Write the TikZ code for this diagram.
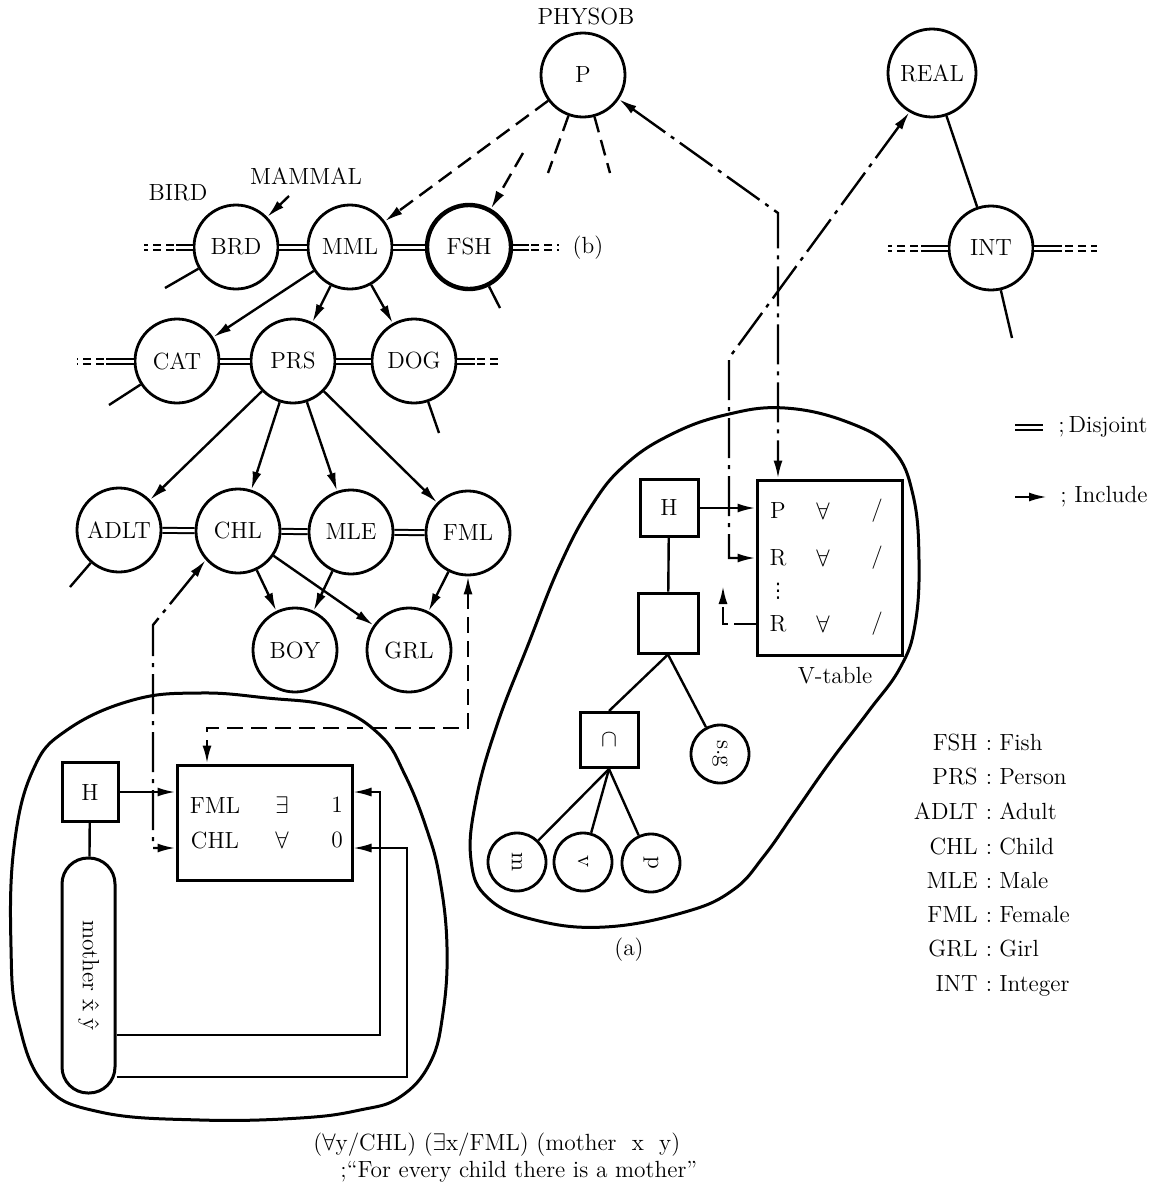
\documentclass[tikz,border=0pt]{standalone}
\usepackage{fontspec}
\usepackage{graphicx}
\newfontfamily\dejavu{DejaVu Sans}
\usetikzlibrary{arrows.meta,calc}
\begin{document}
\begin{tikzpicture}[x=0.5pt,y=-0.5pt,
  font=\fontsize{11.7}{14}\selectfont,
  every node/.style={inner sep=0pt},
  cls/.style={circle,draw,line width=1.4pt,minimum size=42pt,inner sep=0pt},
  smc/.style={circle,draw,line width=1.4pt,minimum size=29pt,inner sep=0pt},
  sq/.style={rectangle,draw,line width=1.5pt,inner sep=0pt},
  pillshape/.style={rectangle,draw,line width=1.5pt,rounded corners=13pt,minimum width=26.5pt,minimum height=117.5pt,inner sep=0pt},
  ln/.style={line width=1.2pt},
  thinln/.style={line width=0.9pt},
  tip/.style={-{Latex[length=9pt,width=4.5pt]}},
  incl/.style={line width=1.2pt,-{Latex[length=9pt,width=4.5pt]}},
  bothinc/.style={line width=1.2pt,{Latex[length=9pt,width=4.5pt]}-{Latex[length=9pt,width=4.5pt]}},
  dsh/.style={dash pattern=on 8pt off 4pt},
  ddot/.style={dash pattern=on 20pt off 3.5pt on 2pt off 3.5pt},
  disj/.style={double,double distance=1.5pt,line width=1pt},
  ddisj/.style={double,double distance=1.5pt,line width=1pt,dash pattern=on 4pt off 2.5pt},
  blob/.style={line width=1.5pt},
]
\useasboundingbox (0,0) rectangle (1165,1195);

% ---- blobs ----
\draw[blob] plot[smooth cycle, tension=0.7] coordinates {(785,408) (850,423) (893,450) (913,495) (919,560) (915,625) (900,668) (868,712) (830,762) (795,812) (764,856) (733,890) (685,912) (605,927) (535,920) (488,898) (471,860) (476,800) (497,725) (528,645) (560,565) (592,505) (625,465) (670,435) (725,415)};
\draw[blob] plot[smooth cycle, tension=0.7] coordinates {(33,770) (67,730) (133,700) (200,693) (267,698) (333,707) (380,735) (405,775) (427,830) (440,880) (447,947) (443,1013) (430,1063) (400,1097) (360,1110) (300,1118) (200,1120) (100,1112) (45,1085) (18,1020) (11,947) (14,847)};

% ---- hierarchy nodes ----
\node[cls] (P) at (583,75) {P};
\node (physob) at (586,17) {PHYSOB};
\node[cls,minimum size=44pt] (REAL) at (932,73) {REAL};
\node[cls] (INT) at (991,248) {INT};

\node[cls] (BRD) at (236,247) {BRD};
\node[cls] (MML) at (350,247) {MML};
\node[cls,line width=2.2pt] (FSH) at (469,247) {FSH};
\node[cls] (CAT) at (177,361) {CAT};
\node[cls] (PRS) at (293,361) {PRS};
\node[cls] (DOG) at (414,361) {DOG};
\node[cls] (ADLT) at (119,530) {ADLT};
\node[cls] (CHL) at (238,531) {CHL};
\node[cls] (MLE) at (351,532) {MLE};
\node[cls] (FML) at (468,533) {FML};
\node[cls] (BOY) at (295,650) {BOY};
\node[cls] (GRL) at (409,650) {GRL};

\node (bird) at (178,193) {BIRD};
\node (mammal) at (306,176) {MAMMAL};
\node (lb) at (588,248) {(b)};

% ---- free ends ----
\coordinate (mamtail) at (289,196);
\coordinate (fshstart) at (523,153);
\coordinate (pstubA) at (548,173);
\coordinate (pstubB) at (610,173);
\coordinate (brdtail) at (165,288);
\coordinate (fshtail) at (500,308);
\coordinate (cattail) at (109,405);
\coordinate (dogtail) at (439,433);
\coordinate (adlttail) at (70,587);
\coordinate (inttail) at (1012,338);

% ---- disjoint links ----
\draw[disj] (BRD) -- (MML);
\draw[disj] (MML) -- (FSH);
\draw[disj] (CAT) -- (PRS);
\draw[disj] (PRS) -- (DOG);
\draw[disj] (ADLT) -- (CHL);
\draw[disj] (CHL) -- (MLE);
\draw[disj] (MLE) -- (FML);

\draw[disj] (BRD.west) -- ++(-17,0);
\draw[ddisj] (BRD.west) ++(-19,0) -- ++(-30,0);
\draw[disj] (FSH.east) -- ++(16,0);
\draw[ddisj] (FSH.east) ++(18,0) -- ++(28,0);
\draw[disj] (CAT.west) -- ++(-28,0);
\draw[ddisj] (CAT.west) ++(-30,0) -- ++(-27,0);
\draw[disj] (DOG.east) -- ++(18,0);
\draw[ddisj] (DOG.east) ++(20,0) -- ++(24,0);
\draw[disj] (INT.west) -- ++(-27,0);
\draw[ddisj] (INT.west) ++(-30,0) -- ++(-30,0);
\draw[disj] (INT.east) -- ++(28,0);
\draw[ddisj] (INT.east) ++(31,0) -- ++(32,0);

% ---- tails ----
\draw[ln] (BRD) -- (brdtail);
\draw[ln] (FSH) -- (fshtail);
\draw[ln] (CAT) -- (cattail);
\draw[ln] (DOG) -- (dogtail);
\draw[ln] (ADLT) -- (adlttail);
\draw[ln] (INT) -- (inttail);
\draw[ln] (REAL) -- (INT);

% ---- include arrows ----
\draw[incl] (mamtail) -- (BRD);
\draw[incl,dsh] (P) -- (MML);
\draw[incl,dsh] (fshstart) -- (FSH);
\draw[ln,dsh] (P) -- (pstubA);
\draw[ln,dsh] (P) -- (pstubB);
\draw[incl] (MML) -- (CAT);
\draw[incl] (MML) -- (PRS);
\draw[incl] (MML) -- (DOG);
\draw[incl] (PRS) -- (ADLT);
\draw[incl] (PRS) -- (CHL);
\draw[incl] (PRS) -- (MLE);
\draw[incl] (PRS) -- (FML);
\draw[incl] (CHL) -- (BOY);
\draw[incl] (CHL) -- (GRL);
\draw[incl] (MLE) -- (BOY);
\draw[incl] (FML) -- (GRL);

% ---- right structure (a) ----
\node[sq,minimum width=29pt,minimum height=28.5pt] (H2) at (669,508) {H};
\node[sq,minimum size=30pt] (E) at (668,623) {};
\node[sq,minimum width=29pt,minimum height=27.5pt] (cap) at (609,740) {$\cap$};
\node[smc] (sg) at (720,754) {\rotatebox{-90}{s.g}};
\node[smc] (m) at (517,862) {\rotatebox{-90}{m}};
\node[smc] (v) at (583,862) {\rotatebox{-90}{v}};
\node[smc] (p) at (651,863) {\rotatebox{-90}{p}};
\node[sq,minimum width=72.5pt,minimum height=87.5pt] (vt) at (829.5,567.5) {};
\node (vP) at (778,511) {P};
\node (vPa) at (823,511) {$\forall$};
\node (vPs) at (877,511) {/};
\node (vR1) at (778,558) {R};
\node (vR1a) at (823,558) {$\forall$};
\node (vR1s) at (877,558) {/};
\node[font=\dejavu\fontsize{10}{10}\selectfont] (vdots) at (778,591) {⋮};
\node (vR2) at (778,624) {R};
\node (vR2a) at (823,624) {$\forall$};
\node (vR2s) at (877,624) {/};
\node (vtlab) at (835,676) {V-table};
\node (la) at (629,950) {(a)};

\draw[incl] (H2.east) -- (vt.west |- H2.east);
\draw[ln] (H2) -- (E);
\draw[ln] (E.south) -- (cap.north);
\draw[ln] (E.south) -- (sg);
\draw[ln] (cap.south) -- (m);
\draw[ln] (cap.south) -- (v);
\draw[ln] (cap.south) -- (p);

\coordinate (rc1) at (729,358);
\draw[bothinc,ddot] (REAL.240) -- (rc1) -- (rc1 |- vR1) -- (vt.west |- vR1);
\coordinate (pc1) at (778,213);
\draw[bothinc,ddot] (P.326) -- (pc1) -- (pc1 |- vt.north);
\coordinate (sa1) at (723,624);
\coordinate (sa2) at (723,586);
\draw[incl,dash pattern=on 11pt off 3pt] (vt.west |- vR2) -- (sa1) -- (sa2);

% ---- left structure ----
\node[sq,minimum width=28pt,minimum height=29.5pt] (H1) at (90,792) {H};
\node[sq,minimum width=87.5pt,minimum height=57.5pt] (tbl) at (264.5,822.5) {};
\node (tF) at (215,805) {FML};
\node (tFq) at (282,805) {$\exists$};
\node (tF1) at (337,805) {1};
\node (tC) at (215,840) {CHL};
\node (tCq) at (282,840) {$\forall$};
\node (tC0) at (337,840) {0};
\node[pillshape] (pill) at (88.5,975.5) {\rotatebox{-90}{mother \^x \^y}};

\draw[ln] (H1) -- (pill);
\draw[incl] (H1.east) -- (tbl.west |- H1.east);

\coordinate (cc1) at (153,625);
\coordinate (cc2) at (153,848);
\draw[bothinc,ddot] (CHL.222) -- (cc1) -- (cc2) -- (tbl.west |- cc2);
\coordinate (fc1) at (468,728);
\coordinate (fc2) at (207,728);
\draw[bothinc,dsh] (FML.south) -- (fc1) -- (fc2) -- (fc2 |- tbl.north);

\coordinate (q1) at (380,1035);
\coordinate (q2) at (407,1077);
\draw[thinln,tip] (pill.east |- q1) -- (q1) -- (q1 |- H1.east) -- (tbl.east |- H1.east);
\draw[thinln,tip] (pill.east |- q2) -- (q2) -- (q2 |- cc2) -- (tbl.east |- cc2);

% ---- legend ----
\coordinate (lg1) at (1015,427);
\coordinate (lg2) at (1043,427);
\draw[disj] (lg1) -- (lg2);
\node[anchor=west] (lgd) at (1058,427) {;\,Disjoint};
\coordinate (lg3) at (1015,497);
\coordinate (lg4) at (1047,497);
\draw[incl] (lg3) -- (lg4);
\node[anchor=west] (lgi) at (1060,497) {; Include};

% ---- abbreviations ----
\foreach \a/\b/\y in {FSH/Fish/743, PRS/Person/777, ADLT/Adult/812, CHL/Child/847, MLE/Male/881, FML/Female/915, GRL/Girl/949, INT/Integer/984} {
  \node[anchor=base east] (dk\a) at (978,\y+7) {\a};
  \node[anchor=base] (dc\a) at (989,\y+7) {:};
  \node[anchor=base west] (dv\a) at (999,\y+7) {\b};
}

% ---- caption ----
\node[anchor=base west] (capA) at (313,1150) {(${\forall}$y/CHL) (${\exists}$x/FML) (mother\ \ x\ \ y)};
\node[anchor=base west] (capB) at (340,1177) {;``For every child there is a mother''};
\end{tikzpicture}
\end{document}
